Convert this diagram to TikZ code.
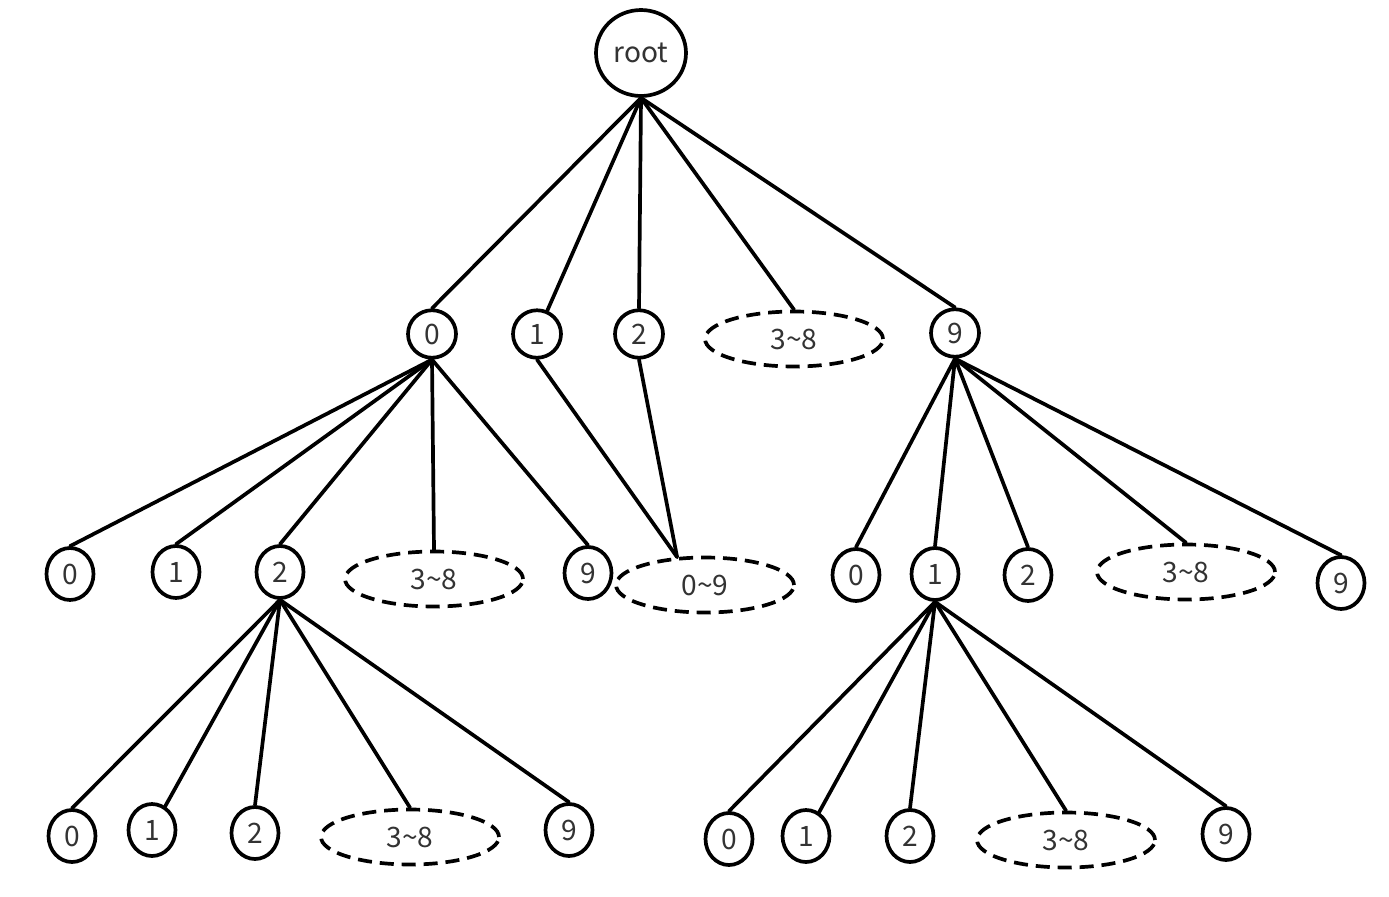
\documentclass[tikz,border=0pt]{standalone}
\usepackage{fontspec}
\setmainfont{Noto Sans CJK SC}
\usetikzlibrary{shapes.geometric}

\begin{document}
\begin{tikzpicture}[
    x=0.02cm, y=-0.02cm,
    every node/.style={font=\fontsize{16}{19}\selectfont, text=black!80},
    rootnode/.style={ellipse, draw, line width=2.1pt, minimum width=1.8cm, minimum height=1.72cm, inner sep=0pt},
    digit/.style={ellipse, draw, line width=2.1pt, minimum width=0.94cm, minimum height=1.04cm, inner sep=0pt},
    topdigit/.style={digit, minimum height=0.95cm, minimum width=0.96cm},
    rangebox/.style={ellipse, draw, line width=2.1pt, dash pattern=on 8pt off 4.5pt, minimum width=3.56cm, minimum height=1.1cm, inner sep=0pt},
    link/.style={line width=2.1pt, line cap=round}
]
    \useasboundingbox [fill=white] (0,0) rectangle (1389,896);

    % root and first level
    \node [rootnode] (root) at (641,53) {root};
    \node [topdigit] (a0) at (432,334) {0};
    \node [topdigit] (a1) at (537,334) {1};
    \node [topdigit] (a2) at (639,334) {2};
    \node [rangebox] (a38) at (794,339) {3\textasciitilde8};
    \node [topdigit] (a9) at (955,333) {9};

    % second level
    \node [digit] (b0) at (70,574) {0};
    \node [digit] (b1) at (176,572) {1};
    \node [digit] (b2) at (280,572) {2};
    \node [rangebox] (b38) at (434,579) {3\textasciitilde8};
    \node [digit] (b9) at (588,573) {9};
    \node [rangebox] (c09) at (705,585) {0\textasciitilde9};
    \node [digit] (d0) at (856,575) {0};
    \node [digit] (d1) at (935,574) {1};
    \node [digit] (d2) at (1028,575) {2};
    \node [rangebox] (d38) at (1186,572) {3\textasciitilde8};
    \node [digit] (d9) at (1341,583) {9};

    % third level
    \node [digit] (e0) at (72,836) {0};
    \node [digit] (e1) at (152,830) {1};
    \node [digit] (e2) at (255,833) {2};
    \node [rangebox] (e38) at (410,837) {3\textasciitilde8};
    \node [digit] (e9) at (569,830) {9};
    \node [digit] (f0) at (729,839) {0};
    \node [digit] (f1) at (806,836) {1};
    \node [digit] (f2) at (910,836) {2};
    \node [rangebox] (f38) at (1066,840) {3\textasciitilde8};
    \node [digit] (f9) at (1226,834) {9};

    \draw [link] (root.south) -- (a0.north);
    \draw [link] (root.south) -- (a1);
    \draw [link] (root.south) -- (a2.north);
    \draw [link] (root.south) -- (a38.north);
    \draw [link] (root.south) -- (a9.north);

    \draw [link] (a0.south) -- (b0.north);
    \draw [link] (a0.south) -- (b1.north);
    \draw [link] (a0.south) -- (b2.north);
    \draw [link] (a0.south) -- (b38.north);
    \draw [link] (a0.south) -- (b9.north);

    \draw [link] (a1.south) -- (c09.135);
    \draw [link] (a2.south) -- (c09.135);

    \draw [link] (a9.south) -- (d0.north);
    \draw [link] (a9.south) -- (d1.north);
    \draw [link] (a9.south) -- (d2.north);
    \draw [link] (a9.south) -- (d38.north);
    \draw [link] (a9.south) -- (d9.north);

    \draw [link] (b2.south) -- (e0.north);
    \draw [link] (b2.south) -- (e1);
    \draw [link] (b2.south) -- (e2.north);
    \draw [link] (b2.south) -- (e38.north);
    \draw [link] (b2.south) -- (e9.north);

    \draw [link] (d1.south) -- (f0.north);
    \draw [link] (d1.south) -- (f1);
    \draw [link] (d1.south) -- (f2.north);
    \draw [link] (d1.south) -- (f38.north);
    \draw [link] (d1.south) -- (f9.north);
\end{tikzpicture}
\end{document}
